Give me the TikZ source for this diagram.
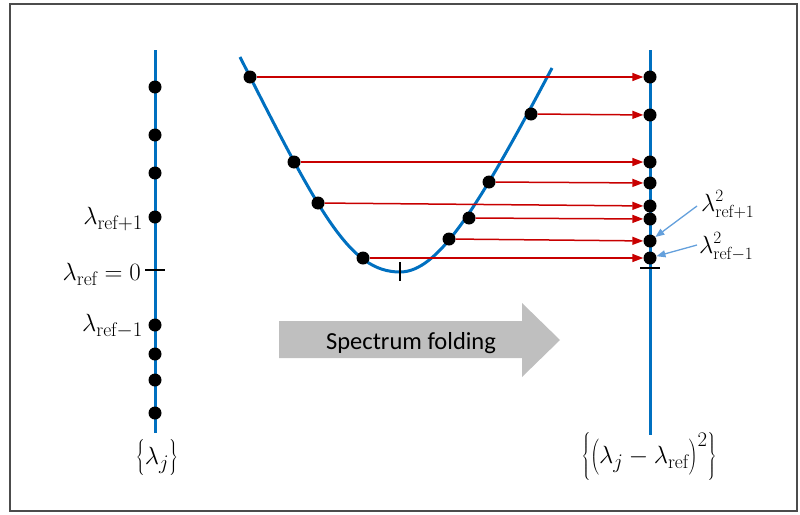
\documentclass[tikz,border=0pt]{standalone}
\usepackage{fontspec}
\newfontfamily\carlito{Carlito}
\usetikzlibrary{arrows.meta}
\definecolor{axisblue}{RGB}{0,112,192}
\definecolor{arrred}{RGB}{200,0,0}
\definecolor{lblue}{RGB}{100,160,220}
\definecolor{foldgray}{RGB}{191,191,191}
\newcommand{\tallstrut}{\vrule height 24pt depth 8pt width 0pt}
\begin{document}
\begin{tikzpicture}[x=1pt,y=-1pt,
  dot/.style={circle,fill=black,inner sep=0pt,minimum size=13pt},
  axisline/.style={draw=axisblue,line width=3pt},
  redarr/.style={draw=arrred,line width=1.5pt,-{Triangle[length=11pt,width=8pt]}},
  bluearr/.style={draw=lblue,line width=1.3pt,-{Triangle[length=9pt,width=7pt]}},
  tickmark/.style={draw=black,line width=2.5pt},
  lbl/.style={font=\fontsize{28}{32}\selectfont,inner sep=0pt},
  rlbl/.style={font=\fontsize{25}{28}\selectfont,inner sep=0pt},
  foldtext/.style={font=\carlito\fontsize{24.5}{28}\selectfont,inner sep=0pt},
  ]
\useasboundingbox (0,0) rectangle (800,514);
\draw[gray!60!black,line width=2pt] (10,4) rectangle (797,511);

% left axis
\coordinate (LA) at (155,50);
\coordinate (LB) at (155,433);
\draw[axisline] (LA) -- (LB);
\foreach \y [count=\i] in {87,135,173,217,325,354,380,413}
  \node[dot] (L\i) at (155,\y) {};
\coordinate (LT1) at (145,270);
\coordinate (LT2) at (165,270);
\draw[tickmark] (LT1) -- (LT2);
\node[lbl,anchor=base east] (lp) at (143,224) {$\lambda_{\mathrm{ref}+1}$};
\node[lbl,anchor=base east] (l0) at (141,280) {$\lambda_{\mathrm{ref}}=0$};
\node[lbl,anchor=base east] (lm) at (143,331) {$\lambda_{\mathrm{ref}-1}$};
\node[lbl,anchor=base] (setL) at (157,464) {$\left\{\tallstrut\lambda_j\right\}$};

% parabola
\draw[axisline] (240,57) .. controls (320,215) and (350,272) .. (400,272)
                .. controls (438,272) and (478,208) .. (552,68);
\coordinate (PT1) at (400,262);
\coordinate (PT2) at (400,281);
\draw[tickmark] (PT1) -- (PT2);

% right axis
\coordinate (RA) at (650,50);
\coordinate (RB) at (650,435);
\draw[axisline] (RA) -- (RB);
\coordinate (RT1) at (640,268);
\coordinate (RT2) at (660,268);
\draw[tickmark] (RT1) -- (RT2);
\foreach \y [count=\i] in {77,115,162,183,206,219,241,258}
  \node[dot] (R\i) at (650,\y) {};

% parabola dots
\foreach \x/\y [count=\i] in {250/77,531/114,294/162,489/182,318/203,469/218,449/239,363/258}
  \node[dot] (P\i) at (\x,\y) {};

% folding arrows
\foreach \i in {1,...,8}
  \draw[redarr] (P\i) -- (R\i);

% right labels
\node[rlbl,anchor=base west] (rp) at (701,211) {$\lambda^2_{\mathrm{ref}+1}$};
\node[rlbl,anchor=base west] (rm) at (699,253) {$\lambda^2_{\mathrm{ref}-1}$};
\coordinate (b1) at (697,206);
\coordinate (b2) at (697,245);
\draw[bluearr] (b1) -- (R7);
\draw[bluearr] (b2) -- (R8);
\node[lbl,anchor=base] (setR) at (649,463) {$\left\{\left(\tallstrut\lambda_j-\lambda_{\mathrm{ref}}\right)^2\right\}$};

% spectrum folding arrow
\fill[foldgray] (279,321) -- (522,321) -- (522,303) -- (560,340) -- (522,377) -- (522,358) -- (279,358) -- cycle;
\node[foldtext,anchor=base] (fold) at (411,349) {Spectrum folding};
\end{tikzpicture}
\end{document}
